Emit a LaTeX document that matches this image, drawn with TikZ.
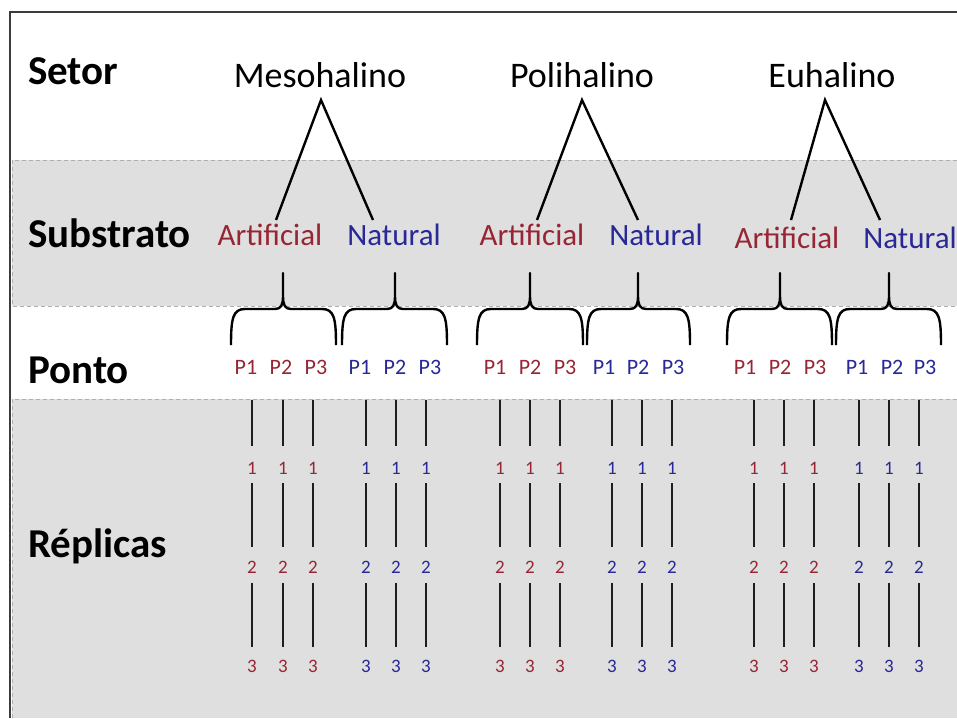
\documentclass[tikz,border=0pt]{standalone}
\usepackage{fontspec}
\setmainfont{Carlito}
\definecolor{bandgray}{RGB}{223,223,223}
\definecolor{dashgray}{RGB}{175,175,175}
\definecolor{framegray}{RGB}{60,60,60}
\definecolor{artred}{RGB}{150,38,52}
\definecolor{natblue}{RGB}{40,40,150}
\definecolor{linedark}{RGB}{30,30,30}
\tikzset{
  band/.style={fill=bandgray,draw=none},
  banddash/.style={draw=dashgray,line width=1pt,dash pattern=on 4pt off 3pt},
  frameline/.style={draw=framegray,line width=1.5pt},
  rowlabel/.style={font=\bfseries\fontsize{41}{48}\selectfont,anchor=base west,inner sep=0pt},
  sector/.style={font=\fontsize{36}{42}\selectfont,anchor=base,inner sep=0pt},
  substr/.style={font=\fontsize{31}{36}\selectfont,anchor=base,inner sep=0pt},
  ponto/.style={font=\fontsize{22}{26}\selectfont,anchor=base,inner sep=0pt},
  repnum/.style={font=\fontsize{19}{22}\selectfont,anchor=center,inner sep=0pt},
  leg/.style={draw=black,line width=2.4pt},
  bracestyle/.style={draw=black,line width=2.4pt,line join=round},
  repline/.style={draw=linedark,line width=2.6pt}
}
\begin{document}
\begin{tikzpicture}[x=1pt,y=-1pt]
\useasboundingbox (0,0) rectangle (957,718);
\fill[white] (0,0) rectangle (957,718);
% bands
\fill[band] (12,160) rectangle (957,306);
\fill[band] (12,399) rectangle (957,718);
\draw[banddash] (957,160) -- (12,160) -- (12,306) -- (957,306);
\draw[banddash] (957,399) -- (12,399) -- (12,718);
% frame
\draw[frameline] (10,718) -- (10,12) -- (957,12);
% row labels
\node[rowlabel] (setor) at (28,84) {Setor};
\node[rowlabel] (substrato) at (28,247) {Substrato};
\node[rowlabel] (pontolbl) at (28,383) {Ponto};
\node[rowlabel] (replicas) at (28,557) {Réplicas};
% sectors
\node[sector] (meso) at (320,87) {Mesohalino};
\node[sector] (poli) at (582,87) {Polihalino};
\node[sector] (eu) at (832,87) {Euhalino};
% substrates
\node[substr,text=artred] (mA) at (270,245) {Artificial};
\node[substr,text=natblue] (mN) at (394,245) {Natural};
\node[substr,text=artred] (pA) at (532,245) {Artificial};
\node[substr,text=natblue] (pN) at (656,245) {Natural};
\node[substr,text=artred] (eA) at (787,248) {Artificial};
\node[substr,text=natblue] (eN) at (910,248) {Natural};
% triangle legs
\coordinate (mTop) at (321,100);
\coordinate (mAl) at (276,220);
\coordinate (mNl) at (373,220);
\coordinate (pTop) at (582,100);
\coordinate (pAl) at (537,220);
\coordinate (pNl) at (638,220);
\coordinate (eTop) at (825,100);
\coordinate (eAl) at (791,220);
\coordinate (eNl) at (880,220);
\draw[leg] (mAl) -- (mTop) -- (mNl);
\draw[leg] (pAl) -- (pTop) -- (pNl);
\draw[leg] (eAl) -- (eTop) -- (eNl);
% braces
\foreach \l/\t/\r in {231/283/336, 342/395/447, 477/530/583, 587/638/690, 727/780/832, 836/889/941}{
  \draw[bracestyle] (\l,345) .. controls (\l,318) and (\l+2,309) .. (\l+14,309)
    -- (\t-8,309) .. controls (\t-2,309) and (\t,305) .. (\t,296) -- (\t,273)
    -- (\t,296) .. controls (\t,305) and (\t+2,309) .. (\t+8,309)
    -- (\r-14,309) .. controls (\r-2,309) and (\r,318) .. (\r,345);
}
% points
\foreach \x/\lab/\n in {246/P1/ma1, 281/P2/ma2, 316/P3/ma3, 495/P1/pa1, 530/P2/pa2, 565/P3/pa3, 745/P1/ea1, 780/P2/ea2, 815/P3/ea3}{
  \node[ponto,text=artred] (\n) at (\x,374) {\lab};
}
\foreach \x/\lab/\n in {360/P1/mn1, 395/P2/mn2, 430/P3/mn3, 604/P1/pn1, 638/P2/pn2, 673/P3/pn3, 857/P1/en1, 892/P2/en2, 925/P3/en3}{
  \node[ponto,text=natblue] (\n) at (\x,374) {\lab};
}
% replicas
\foreach \x/\c in {252/artred, 283/artred, 313/artred, 366/natblue, 396/natblue, 426/natblue,
                   500/artred, 530/artred, 560/artred, 612/natblue, 642/natblue, 672/natblue,
                   754/artred, 784/artred, 814/artred, 859/natblue, 889/natblue, 919/natblue}{
  \coordinate (top\x) at (\x,400);
  \node[repnum,text=\c] (r1\x) at (\x,468) {1};
  \node[repnum,text=\c] (r2\x) at (\x,567) {2};
  \node[repnum,text=\c] (r3\x) at (\x,666) {3};
  \draw[repline] (top\x) -- (\x,446);
  \draw[repline] (\x,483) -- (\x,547);
  \draw[repline] (\x,583) -- (\x,647);
}
\end{tikzpicture}
\end{document}
